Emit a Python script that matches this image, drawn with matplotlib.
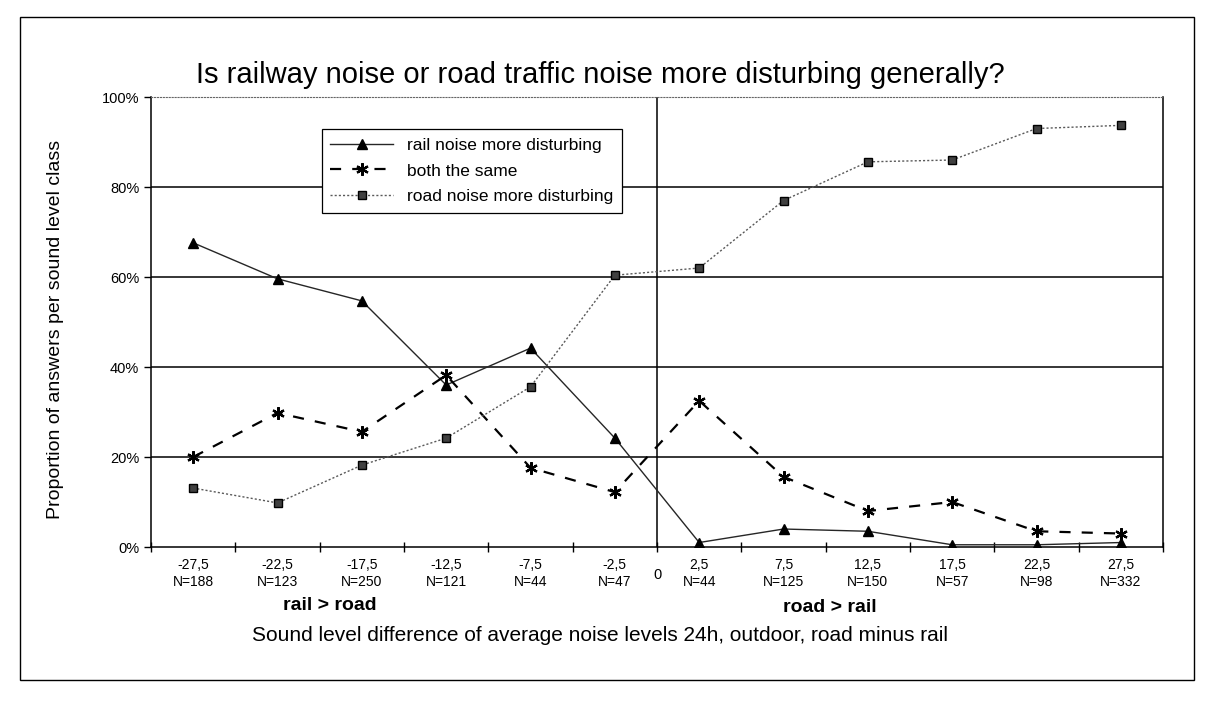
import matplotlib.pyplot as plt
from matplotlib.patches import Rectangle

plt.rcParams['font.family'] = ['Liberation Sans', 'DejaVu Sans']

# sound level classes (road minus rail, dB) and respondents per class
level_diff = [-27.5, -22.5, -17.5, -12.5, -7.5, -2.5, 2.5, 7.5, 12.5, 17.5, 22.5, 27.5]
n_answers = [188, 123, 250, 121, 44, 47, 44, 125, 150, 57, 98, 332]

# share of answers in %
rail_more = [67.6, 59.6, 54.7, 36.0, 44.2, 24.2, 1.0, 4.0, 3.5, 0.5, 0.5, 1.0]
both_same = [20.0, 29.8, 25.6, 38.2, 17.6, 12.2, 32.5, 15.6, 8.0, 10.0, 3.5, 3.0]
road_more = [13.1, 9.8, 18.2, 24.2, 35.6, 60.4, 62.0, 77.0, 85.6, 86.0, 93.0, 93.7]

y_ticks = [0, 20, 40, 60, 80, 100]

tick_labels = [f"{str(v).replace('.', ',')}\nN={n}" for v, n in zip(level_diff, n_answers)]

fig = plt.figure(figsize=(12.12, 7.16), dpi=100)
ax = fig.add_axes([0.1246, 0.236, 0.835, 0.6285])

# horizontal grid and the zero line
for y in y_ticks[1:-1]:
    ax.axhline(y, color='black', lw=1.1, zorder=1)
ax.axvline(0, color='black', lw=1.1, zorder=1)

ax.plot(level_diff, rail_more, color='0.15', lw=1.0, ls='-',
        marker='^', ms=7, mfc='black', mec='black', label='rail noise more disturbing', zorder=3)
ax.plot(level_diff, both_same, color='black', lw=1.6, ls=(0, (5, 5)),
        marker=(6, 2, 0), ms=9, mew=1.6, mec='black', label='both the same', zorder=3)
ax.plot(level_diff, road_more, color='0.35', lw=1.0, ls=(0, (1.5, 1.5)),
        marker='s', ms=6, mfc='0.25', mec='black', label='road noise more disturbing', zorder=3)

ax.set_xlim(-30, 30)
ax.set_ylim(0, 100)
ax.set_yticks(y_ticks)
ax.set_yticklabels([f'{v}%' for v in y_ticks], fontsize=10.5)
ax.tick_params(axis='y', direction='out', length=5, width=1)

ax.set_xticks(level_diff)
ax.set_xticklabels(tick_labels, fontsize=10, linespacing=1.25)
ax.tick_params(axis='x', which='major', length=0, pad=8)
ax.set_xticks(range(-30, 31, 5), minor=True)
ax.tick_params(axis='x', which='minor', direction='inout', length=7, width=1)

for side in ['left', 'right', 'bottom']:
    ax.spines[side].set_color('black')
    ax.spines[side].set_linewidth(1.1)
ax.spines['top'].set_linestyle(':')
ax.spines['top'].set_color('0.4')

ax.text(0, -6.3, '0', ha='center', va='center', fontsize=10.5)

leg = ax.legend(loc='upper left', bbox_to_anchor=(0.16, 0.948), fontsize=12.5,
                fancybox=False, framealpha=1, edgecolor='black', borderpad=0.5,
                handlelength=3.6, labelspacing=0.6)
leg.get_frame().set_linewidth(0.9)

fig.text(0.495, 0.895, 'Is railway noise or road traffic noise more disturbing generally?',
         ha='center', va='center', fontsize=21)
fig.text(0.046, 0.54, 'Proportion of answers per sound level class', rotation=90,
         ha='center', va='center', fontsize=14)
fig.text(0.272, 0.155, 'rail > road', ha='center', va='center', fontsize=14, fontweight='bold')
fig.text(0.685, 0.152, 'road > rail', ha='center', va='center', fontsize=14, fontweight='bold')
fig.text(0.495, 0.112, 'Sound level difference of average noise levels 24h, outdoor, road minus rail',
         ha='center', va='center', fontsize=15)

# outer frame of the chart
fig.patches.append(Rectangle((0.0165, 0.05), 0.969, 0.926, transform=fig.transFigure,
                             fill=False, edgecolor='black', lw=1.0))

fig.savefig('out.png', dpi=100)
